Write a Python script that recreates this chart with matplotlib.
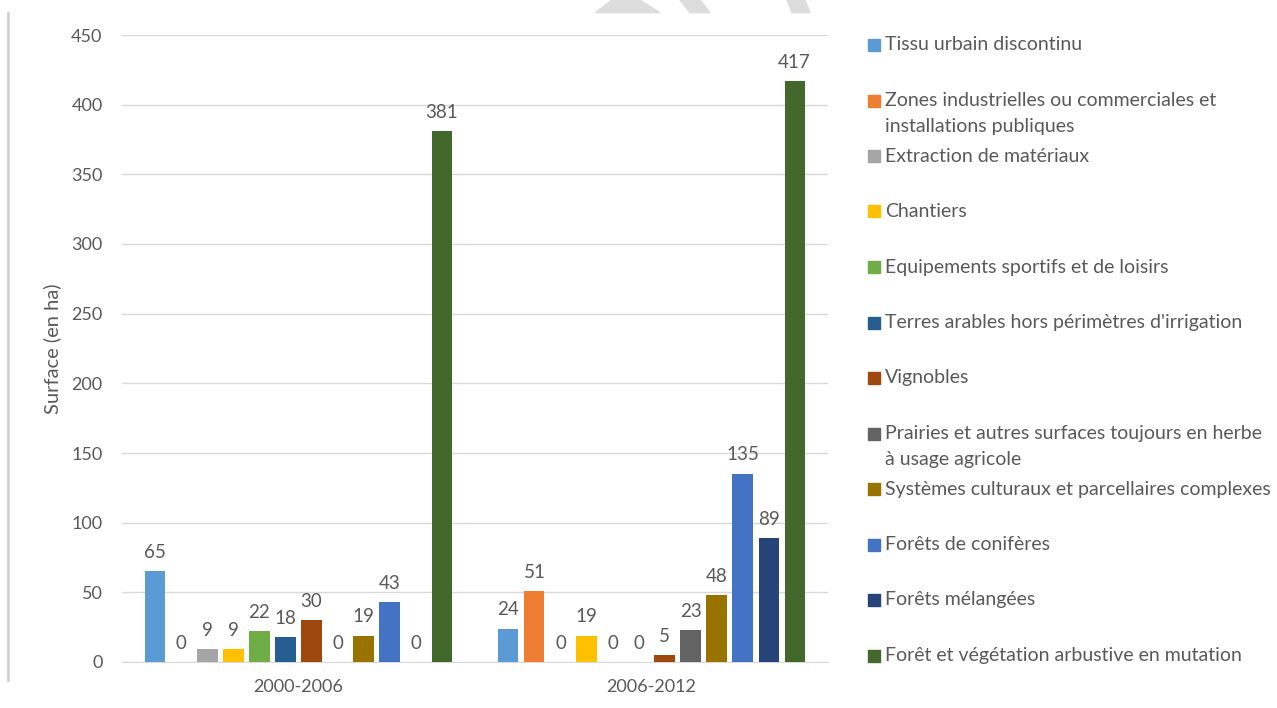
import matplotlib.pyplot as plt
import matplotlib.patches as mpatches
import numpy as np

plt.rcParams['font.family'] = ['Lato', 'DejaVu Sans']

periods = ["2000-2006", "2006-2012"]
series = [
    "Tissu urbain discontinu",
    "Zones industrielles ou commerciales et\ninstallations publiques",
    "Extraction de matériaux",
    "Chantiers",
    "Equipements sportifs et de loisirs",
    "Terres arables hors périmètres d'irrigation",
    "Vignobles",
    "Prairies et autres surfaces toujours en herbe\nà usage agricole",
    "Systèmes culturaux et parcellaires complexes",
    "Forêts de conifères",
    "Forêts mélangées",
    "Forêt et végétation arbustive en mutation",
]
v_2000_2006 = [65, 0, 9, 9, 22, 18, 30, 0, 19, 43, 0, 381]
v_2006_2012 = [24, 51, 0, 19, 0, 0, 5, 23, 48, 135, 89, 417]
colors = ["#5B9BD5", "#ED7D31", "#A5A5A5", "#FFC000", "#70AD47", "#255E91",
          "#9E480E", "#636363", "#997300", "#4472C4", "#264478", "#43682B"]

W, H = 1277, 708
fig = plt.figure(figsize=(W / 100, H / 100), dpi=100)
ax = fig.add_axes([122 / W, 1 - 662 / H, (828 - 122) / W, (662 - 35) / H])

txt = "#595959"
grid = "#D9D9D9"
x = np.arange(len(periods))
pitch = 0.0737
width = 0.057
for i, name in enumerate(series):
    vals = [v_2000_2006[i], v_2006_2012[i]]
    pos = x + (i - 5.5) * pitch
    bars = ax.bar(pos, vals, width, color=colors[i], zorder=3)
    for b, v in zip(bars, vals):
        ax.annotate(str(v), (b.get_x() + b.get_width() / 2, v),
                    xytext=(0, 7.5), textcoords="offset points",
                    ha="center", va="bottom", fontsize=13.5, color=txt)

ax.set_xlim(-0.5, 1.5)
ax.set_ylim(0, 450)
ax.set_yticks(range(0, 451, 50))
ax.set_xticks(x)
ax.set_xticklabels(periods)
ax.tick_params(length=0, colors=txt, labelsize=13)
ax.tick_params(axis="y", pad=14)
ax.tick_params(axis="x", pad=12)
ax.yaxis.grid(True, color=grid, lw=1, zorder=0)
for s in ["top", "right", "left"]:
    ax.spines[s].set_visible(False)
ax.spines["bottom"].set_color(grid)
ax.set_ylabel("Surface (en ha)", color=txt, fontsize=14.5, labelpad=7)

# legend drawn by hand to match the spacing
for i, name in enumerate(series):
    y = 45 + i * 55.5
    fig.patches.append(mpatches.Rectangle((868 / W, 1 - (y + 6) / H), 12 / W, 12 / H,
                                          transform=fig.transFigure, color=colors[i]))
    for k, line in enumerate(name.split("\n")):
        fig.text(885 / W, 1 - (y + k * 26) / H, line, ha="left", va="center",
                 fontsize=14, color=txt)

# left frame line
fig.add_artist(plt.Line2D([8 / W, 8 / W], [1 - 13 / H, 1 - 680 / H],
                          transform=fig.transFigure, color="#D0D0D0", lw=2))

# watermark fragments at top
for poly in [[(595, 12.7), (660, 12.7), (640, 0), (612, 0)],
             [(680, 0), (700, 0), (710, 12.7), (690, 12.7)],
             [(787, 0), (805, 0), (810, 12.7), (792, 12.7)]]:
    fig.patches.append(mpatches.Polygon([(px / W, 1 - py / H) for px, py in poly],
                                        closed=True, transform=fig.transFigure,
                                        color="#DDDDDD"))

fig.savefig("out.png", dpi=100)
